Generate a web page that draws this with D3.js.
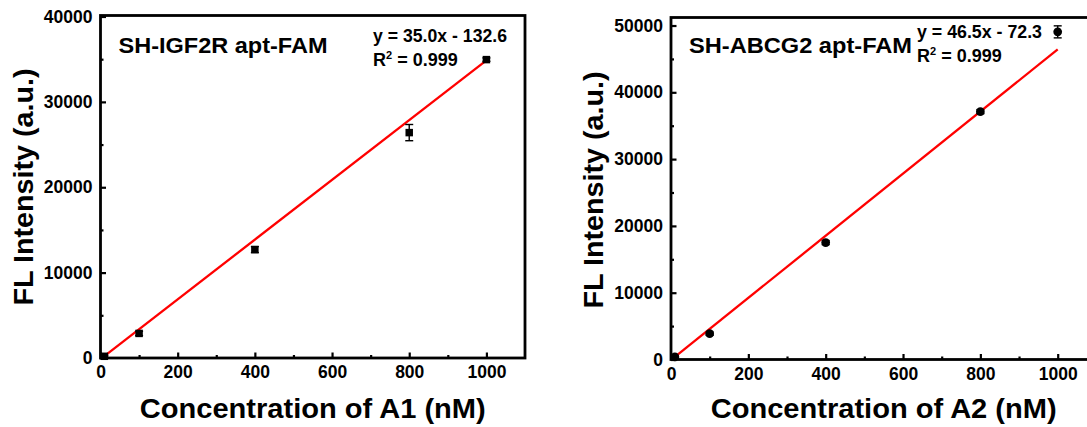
<!DOCTYPE html>
<html>
<head>
<meta charset="utf-8">
<script src="https://cdn.jsdelivr.net/npm/d3@7"></script>
<style>
  body { margin: 0; background: #fff; }
  svg { display: block; }
  text { font-family: "Liberation Sans", Arial, sans-serif; font-weight: bold; fill: #000; }
</style>
</head>
<body>
<div id="chart"></div>
<script>
// data
const concA1 = [10, 100, 400, 800, 1000];
const flA1 = [200, 2880, 12700, 26400, 34950];
const errA1 = [100, 250, 350, 950, 200];

const concA2 = [10, 100, 400, 800, 1000];
const flA2 = [380, 3870, 17500, 37100, 49050];
const errA2 = [100, 250, 300, 300, 900];

// linear fits as printed on the chart
const fitA1 = { slope: 35.0, intercept: -132.6, label: "y = 35.0x - 132.6", r2: "0.999" };
const fitA2 = { slope: 46.5, intercept: -72.3, label: "y = 46.5x - 72.3", r2: "0.999" };

const xTicks = [0, 200, 400, 600, 800, 1000];
const xMinor = [100, 300, 500, 700, 900];
const yTicksA1 = [0, 10000, 20000, 30000, 40000];
const yMinorA1 = [5000, 15000, 25000, 35000];
const yTicksA2 = [0, 10000, 20000, 30000, 40000, 50000];
const yMinorA2 = [5000, 15000, 25000, 35000, 45000];

const width = 1087;
const height = 427;

const svg = d3.select("#chart")
  .append("svg")
  .attr("width", width)
  .attr("height", height);

svg.append("rect").attr("width", width).attr("height", height).attr("fill", "#fff");

function drawPanel(p) {
  const x = d3.scaleLinear().domain([0, 1100]).range([p.left, p.right]);
  const y = d3.scaleLinear().domain([0, p.yMax]).range([p.bottom, p.top]);
  const g = svg.append("g");

  // fit line
  const xs = d3.extent(p.conc);
  g.append("line")
    .attr("x1", x(xs[0])).attr("y1", y(p.fit.slope * xs[0] + p.fit.intercept))
    .attr("x2", x(xs[1])).attr("y2", y(p.fit.slope * xs[1] + p.fit.intercept))
    .attr("stroke", "#f00")
    .attr("stroke-width", 2.3);

  // error bars
  const pts = p.conc.map((c, i) => ({ c, v: p.fl[i], e: p.err[i] }));
  const eb = g.append("g").attr("stroke", "#000").attr("stroke-width", 1.4);
  eb.selectAll("line.v").data(pts).join("line")
    .attr("x1", d => x(d.c)).attr("x2", d => x(d.c))
    .attr("y1", d => y(d.v - d.e)).attr("y2", d => y(d.v + d.e));
  eb.selectAll("line.t").data(pts).join("line")
    .attr("x1", d => x(d.c) - 4).attr("x2", d => x(d.c) + 4)
    .attr("y1", d => y(d.v + d.e)).attr("y2", d => y(d.v + d.e));
  eb.selectAll("line.b").data(pts).join("line")
    .attr("x1", d => x(d.c) - 4).attr("x2", d => x(d.c) + 4)
    .attr("y1", d => y(d.v - d.e)).attr("y2", d => y(d.v - d.e));

  // symbols
  const sym = d3.symbol().type(p.symbol).size(p.symbolSize);
  g.selectAll("path.pt").data(pts).join("path")
    .attr("class", "pt")
    .attr("transform", d => `translate(${x(d.c)},${y(d.v)})`)
    .attr("d", sym)
    .attr("fill", "#000");

  // frame
  g.append("rect")
    .attr("x", p.left).attr("y", p.top)
    .attr("width", p.right - p.left).attr("height", p.bottom - p.top)
    .attr("fill", "none").attr("stroke", "#000").attr("stroke-width", 2.8);

  // axes, ticks pointing inward
  g.append("g")
    .attr("transform", `translate(0,${p.bottom})`)
    .call(d3.axisBottom(x).tickValues(xTicks).tickSize(-5.5).tickPadding(8).tickFormat(d3.format("d")));
  g.append("g")
    .attr("transform", `translate(0,${p.bottom})`)
    .call(d3.axisBottom(x).tickValues(xMinor).tickSize(-3).tickFormat(""));
  g.append("g")
    .attr("transform", `translate(${p.left},0)`)
    .call(d3.axisLeft(y).tickValues(p.yTicks).tickSize(-5.5).tickPadding(8).tickFormat(d3.format("d")));
  g.append("g")
    .attr("transform", `translate(${p.left},0)`)
    .call(d3.axisLeft(y).tickValues(p.yMinor).tickSize(-3).tickFormat(""));

  g.selectAll(".domain").remove();
  g.selectAll(".tick line").attr("stroke", "#000").attr("stroke-width", 2.2);
  g.selectAll(".tick text")
    .attr("font-size", 17.5)
    .attr("font-family", '"Liberation Sans", Arial, sans-serif')
    .attr("font-weight", "bold")
    .attr("fill", "#000");

  // axis titles
  g.append("text")
    .attr("x", (p.left + p.right) / 2).attr("y", 418)
    .attr("text-anchor", "middle")
    .attr("font-size", 28)
    .attr("textLength", 346).attr("lengthAdjust", "spacingAndGlyphs")
    .text(p.xTitle);
  g.append("text")
    .attr("transform", `translate(${p.yTitleX},${p.yTitleY}) rotate(-90)`)
    .attr("text-anchor", "middle")
    .attr("font-size", 28)
    .attr("textLength", 237).attr("lengthAdjust", "spacingAndGlyphs")
    .text("FL Intensity (a.u.)");

  // sample label
  g.append("text")
    .attr("x", p.left + 18).attr("y", 53)
    .attr("font-size", 22)
    .attr("textLength", p.labelW).attr("lengthAdjust", "spacingAndGlyphs")
    .text(p.label);

  // equation
  g.append("text")
    .attr("x", p.eqX).attr("y", p.eqY)
    .attr("font-size", 18)
    .attr("textLength", p.eqW).attr("lengthAdjust", "spacingAndGlyphs")
    .text(p.fit.label);
  const r2 = g.append("text")
    .attr("x", p.eqX).attr("y", p.eqY + 24)
    .attr("font-size", 18);
  r2.append("tspan").text("R");
  r2.append("tspan").attr("font-size", 11).attr("dy", -7).text("2");
  r2.append("tspan").attr("dy", 7).text(" = " + p.fit.r2);
}

drawPanel({
  left: 100.5, right: 525, top: 15.5, bottom: 358,
  yMax: 40000 * (358 - 15.5) / (358 - 16.5),
  conc: concA1, fl: flA1, err: errA1, fit: fitA1,
  yTicks: yTicksA1, yMinor: yMinorA1,
  symbol: d3.symbolSquare, symbolSize: 56,
  xTitle: "Concentration of A1 (nM)",
  yTitleX: 33, yTitleY: 187,
  label: "SH-IGF2R apt-FAM", labelW: 209,
  eqX: 373, eqY: 42, eqW: 134
});

drawPanel({
  left: 671, right: 671 + 1100 * 0.3867, top: 17.5, bottom: 359.5,
  yMax: 51200,
  conc: concA2, fl: flA2, err: errA2, fit: fitA2,
  yTicks: yTicksA2, yMinor: yMinorA2,
  symbol: d3.symbolCircle, symbolSize: 60,
  xTitle: "Concentration of A2 (nM)",
  yTitleX: 603, yTitleY: 190,
  label: "SH-ABCG2 apt-FAM", labelW: 223,
  eqX: 917, eqY: 37.5, eqW: 125
});
</script>
</body>
</html>
